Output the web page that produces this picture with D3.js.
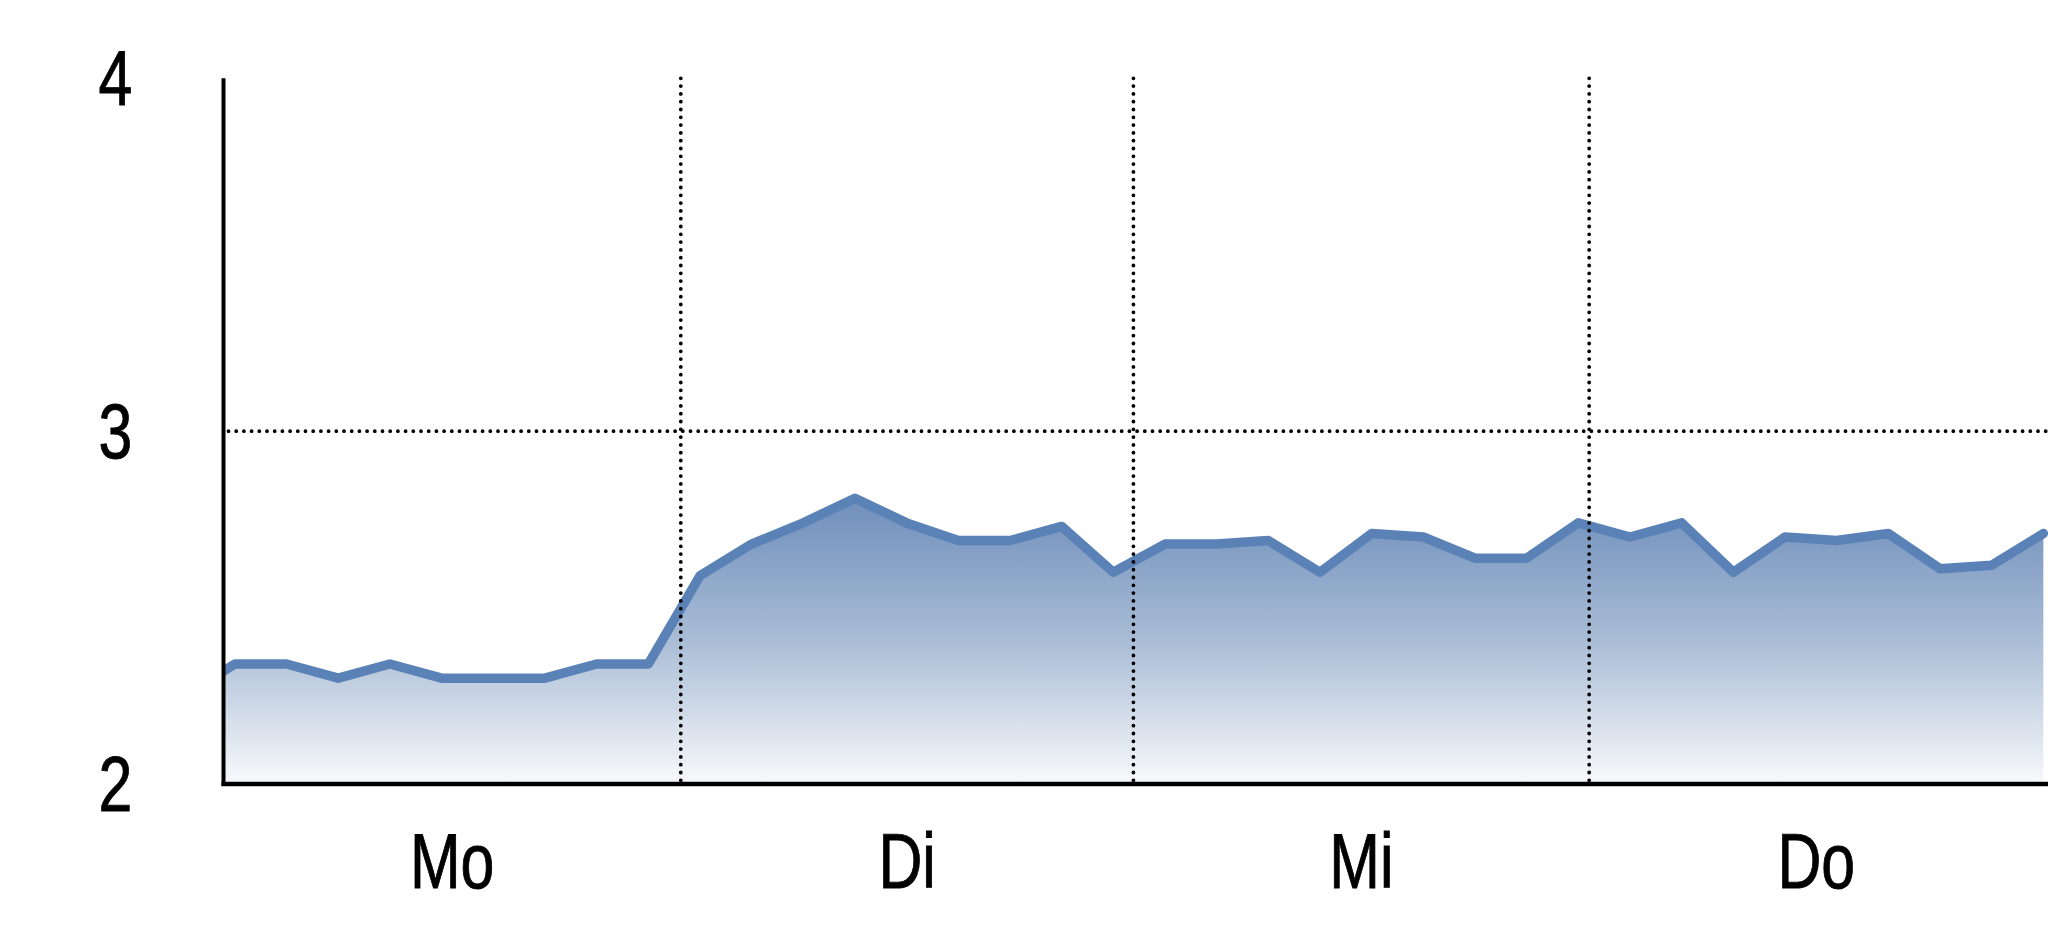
<!DOCTYPE html>
<html>
<head>
<meta charset="utf-8">
<script src="https://cdn.jsdelivr.net/npm/d3@7"></script>
<style>
  html, body { margin: 0; padding: 0; background: #fff; }
  svg { display: block; }
  text { font-family: "Liberation Sans", Arial, sans-serif; }
</style>
</head>
<body>
<svg id="chart" width="2048" height="937"></svg>
<script>
// ---- data ----
// sample number (x) of each reading; sample 0 lies just before the visible range
const sampleValues = [2.25,
  2.34, 2.34, 2.30, 2.34, 2.30, 2.30, 2.30, 2.34, 2.34,
  2.59, 2.68, 2.74, 2.81, 2.74, 2.69, 2.69, 2.73, 2.60,
  2.68, 2.68, 2.69, 2.60, 2.71, 2.70, 2.64, 2.64, 2.74,
  2.70, 2.74, 2.60, 2.70, 2.69, 2.71, 2.61, 2.62, 2.71];
const dayLabels = ["Mo", "Di", "Mi", "Do"];
// day boundaries expressed in sample numbers
const dayBounds = [0.78, 9.63, 18.39, 27.21, 36.0];
const yTicks = [2, 3, 4];
const yDomain = [2, 4];
const xDomain = [0.78, 36.09];

// ---- layout ----
const W = 2048, H = 937;
const mLeft = 223.5, mRight = 2048, mTop = 78.3, mBottom = 784;
// the reference uses a narrow face; condense the regular face horizontally
const squeeze = 0.79;

const svg = d3.select("#chart");
const x = d3.scaleLinear().domain(xDomain).range([mLeft, mRight]);
const y = d3.scaleLinear().domain(yDomain).range([mBottom, mTop]);

const data = sampleValues.map((v, i) => ({ i, v }));

const defs = svg.append("defs");
const grad = defs.append("linearGradient")
  .attr("id", "areaGrad").attr("x1", 0).attr("y1", 0).attr("x2", 0).attr("y2", 1);
grad.append("stop").attr("offset", "0%").attr("stop-color", "#6e8ebb");
grad.append("stop").attr("offset", "50%").attr("stop-color", "#aabdd6");
grad.append("stop").attr("offset", "100%").attr("stop-color", "#f8f9fb");

defs.append("clipPath").attr("id", "plotClip")
  .append("rect")
  .attr("x", mLeft).attr("y", 0)
  .attr("width", mRight - mLeft).attr("height", mBottom);

const plot = svg.append("g").attr("clip-path", "url(#plotClip)");

const area = d3.area()
  .x(d => x(d.i)).y0(y(yDomain[0])).y1(d => y(d.v));
const line = d3.line()
  .x(d => x(d.i)).y(d => y(d.v));

plot.append("path").datum(data)
  .attr("d", area)
  .attr("fill", "url(#areaGrad)");

// horizontal dotted gridline at 3
svg.append("g").selectAll("line.hgrid")
  .data(yTicks.filter(t => t !== yDomain[0] && t !== yDomain[1]))
  .join("line")
  .attr("x1", mLeft + 5).attr("x2", mRight)
  .attr("y1", d => y(d)).attr("y2", d => y(d))
  .attr("stroke", "#000").attr("stroke-width", 3.8)
  .attr("stroke-linecap", "round")
  .attr("stroke-dasharray", "0 7.7");

// vertical dotted day separators
svg.append("g").selectAll("line.vgrid")
  .data(dayBounds.slice(1, -1))
  .join("line")
  .attr("x1", d => x(d)).attr("x2", d => x(d))
  .attr("y1", mTop).attr("y2", mBottom)
  .attr("stroke", "#000").attr("stroke-width", 3.8)
  .attr("stroke-linecap", "round")
  .attr("stroke-dasharray", "0 7.8");

plot.append("path").datum(data)
  .attr("d", line)
  .attr("fill", "none")
  .attr("stroke", "#5a82b6")
  .attr("stroke-width", 9.5)
  .attr("stroke-linejoin", "round")
  .attr("stroke-linecap", "round");

// axes
svg.append("line")
  .attr("x1", mLeft).attr("x2", mLeft)
  .attr("y1", mTop).attr("y2", mBottom + 2)
  .attr("stroke", "#000").attr("stroke-width", 4);
svg.append("line")
  .attr("x1", mLeft - 2).attr("x2", mRight)
  .attr("y1", mBottom).attr("y2", mBottom)
  .attr("stroke", "#000").attr("stroke-width", 4.3);

// y tick labels
svg.append("g").selectAll("text.ytick")
  .data(yTicks)
  .join("text")
  .attr("transform", d => `translate(115.5,${y(d)}) scale(${squeeze},1)`)
  .attr("dy", "0.35em")
  .attr("text-anchor", "middle")
  .attr("font-size", 77)
  .attr("fill", "#000")
  .attr("stroke", "#000").attr("stroke-width", 0.9)
  .text(d => d);

// day labels
svg.append("g").selectAll("text.day")
  .data(dayLabels)
  .join("text")
  .attr("transform", (d, k) => `translate(${x((dayBounds[k] + dayBounds[k + 1]) / 2)},888.3) scale(${squeeze},1)`)
  .attr("text-anchor", "middle")
  .attr("font-size", 77)
  .attr("fill", "#000")
  .attr("stroke", "#000").attr("stroke-width", 0.9)
  .text(d => d);
</script>
</body>
</html>
